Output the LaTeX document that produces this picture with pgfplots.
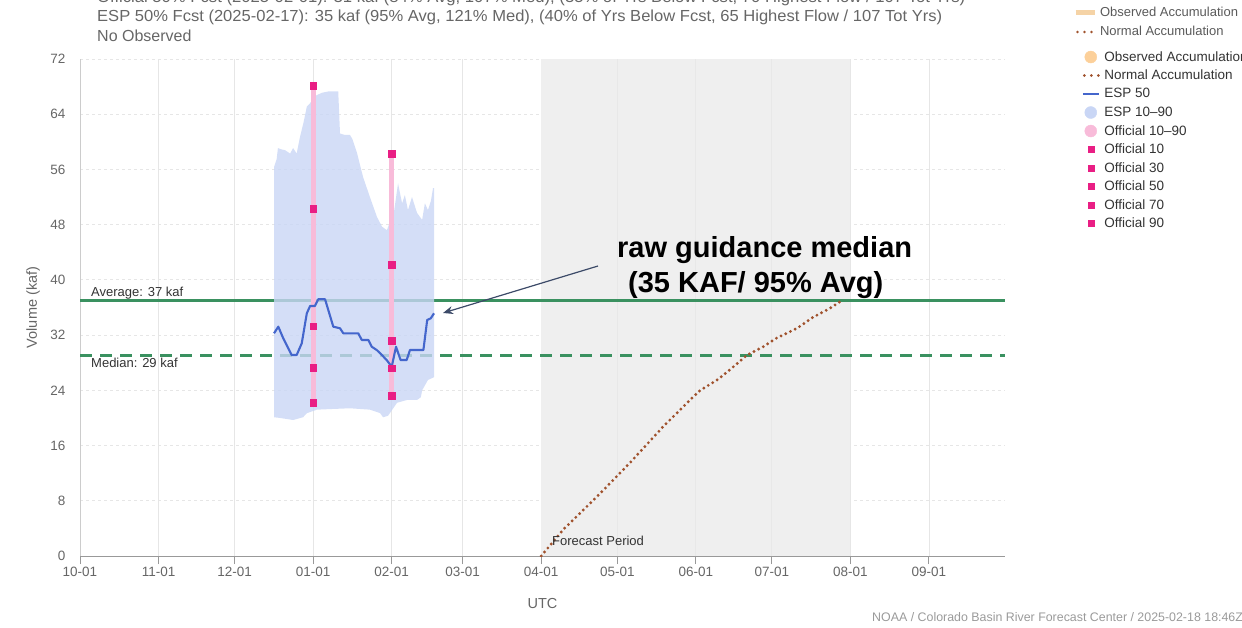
\documentclass[border=0pt]{standalone}
\usepackage{pgfplots}
\pgfplotsset{compat=1.18}
\usepackage{fontspec}
\setmainfont{Liberation Sans}
\usetikzlibrary{arrows.meta}
\definecolor{textgray}{HTML}{666666}
\definecolor{darktext}{HTML}{333333}
\definecolor{legtext}{HTML}{333333}
\definecolor{leg1text}{HTML}{5A5A5A}
\definecolor{footgray}{HTML}{9A9A9A}
\definecolor{axisgray}{HTML}{999999}
\definecolor{lightaxis}{HTML}{CCCCCC}
\definecolor{gridgray}{HTML}{E6E6E6}
\definecolor{fcgray}{HTML}{EFEFEF}
\definecolor{avggreen}{HTML}{3A9160}
\definecolor{espband}{HTML}{C9D6F5}
\definecolor{espline}{HTML}{4466CC}
\definecolor{offpink}{HTML}{F8BBD9}
\definecolor{offmag}{HTML}{E91E84}
\definecolor{normbrown}{HTML}{A0522D}
\definecolor{obstan}{HTML}{F5D3A6}
\definecolor{obsorange}{HTML}{FCD09A}
\definecolor{arrowc}{HTML}{3C4A68}

\pgfplotstableread{
x y
76.6 56.4
77.6 57.5
78.1 59.1
79.5 58.9
80.9 58.8
82.9 58.3
84.1 59.1
85.5 58.3
86.8 60.7
88.2 62.8
89.5 65.1
90.8 65.6
92.5 66.6
95.4 67.1
98.0 67.3
101.9 67.3
102.6 61.2
104.5 61.0
106.5 61.0
107.5 60.4
109.3 58.4
111.7 54.9
114.4 52.0
117.2 49.1
119.2 47.7
121.1 47.2
122.3 48.4
123.5 48.8
125.5 54.0
126.3 52.5
127.1 51.1
128.2 52.3
129.4 50.1
131.0 52.0
133.0 49.7
135.0 48.7
136.1 51.1
137.3 50.1
138.5 51.5
139.3 53.3
139.7 53.3
139.7 25.9
137.3 25.5
135.0 24.0
134.5 23.0
133.0 22.6
129.0 22.6
125.1 22.2
122.3 20.7
121.5 20.3
119.6 20.1
118.4 20.7
114.4 21.2
106.5 21.4
99.8 21.3
93.5 21.2
89.6 20.7
88.0 20.1
84.1 19.7
78.9 20.0
76.6 20.1
}\espband

\pgfplotstableread{
x y
76.55 32.26
78.25 33.22
80.2 31.54
82.2 30.09
83.5 29.12
85.5 29.12
87.5 30.81
89.5 35.16
90.8 36.22
92.7 36.22
94.0 37.19
96.7 37.19
99.95 33.22
102.6 32.99
103.9 32.26
109.8 32.26
111.2 31.29
113.8 31.29
115.1 30.32
117.1 29.84
119.1 29.12
121.0 28.39
123.0 27.42
124.7 30.32
126.5 28.39
128.9 28.39
130.2 29.84
135.5 29.84
137.0 34.19
138.4 34.43
139.7 35.16
}\espfifty

\pgfplotstableread{
x y
182 0
190.6 3.8
204 8.6
217 13.5
230 18.7
240.7 22.6
244.7 24.0
251.4 25.5
256.5 27.0
263.2 29.1
269.5 30.3
275 31.6
283 33.0
289.3 34.6
296 35.9
300.5 37.0
}\normacc

\pgfplotstableread{
x y
92 68.1
92 50.3
92 33.3
92 27.3
92 22.2
123 58.3
123 42.2
123 31.2
123 27.2
123 23.2
}\official

\begin{document}
\begin{tikzpicture}[x=1pt,y=1pt]
\begin{axis}[
  at={(80pt,71pt)}, anchor=south west,
  scale only axis, width=925pt, height=497pt,
  xmin=0, xmax=365, ymin=0, ymax=72,
  axis lines=left, axis line style={-},
  x axis line style={draw=axisgray, line width=1pt},
  y axis line style={draw=lightaxis, line width=1pt},
  xtick={0,31,61,92,123,151,182,212,243,273,304,335},
  xticklabels={10-01,11-01,12-01,01-01,02-01,03-01,04-01,05-01,06-01,07-01,08-01,09-01},
  ytick={0,8,...,72},
  tick align=outside, major tick length=8pt,
  xtick style={draw=axisgray, line width=1pt},
  ytick style={draw=none},
  yticklabel style={xshift=-3pt},
  xmajorgrids, ymajorgrids,
  x grid style={draw=gridgray, line width=0.8pt},
  y grid style={draw=gridgray, line width=0.8pt, dash pattern=on 3pt off 3pt},
  tick label style={font=\fontsize{13.5}{16}\selectfont, text=textgray},
  /pgf/number format/assume math mode=true,
  xlabel={UTC}, ylabel={Volume (kaf)},
  label style={font=\fontsize{14.5}{17}\selectfont, text=textgray},
  xlabel style={at={(axis description cs:0.5,-0.0946)}, anchor=center},
  ylabel style={at={(axis description cs:-0.0508,0.5)}, anchor=center},
  legend style={
    at={(axis description cs:1.0830,1.0226)}, anchor=north west,
    draw=none, fill=none, inner sep=0pt, outer sep=0pt,
    font=\fontsize{13.5}{16}\selectfont, text=legtext,
    row sep=0pt, column sep=4pt,
    nodes={inner sep=0pt, minimum height=18.5pt},
  },
  legend cell align=left,
]
% forecast period shading
\addplot[draw=none, fill=fcgray, forget plot] coordinates {(182,72) (304,72)} \closedcycle;
% month grid lines visible over the shading
\addplot[gridgray!80!black!12!fcgray, line width=0.8pt, forget plot] coordinates {(212,0) (212,72)};
\addplot[gridgray!80!black!12!fcgray, line width=0.8pt, forget plot] coordinates {(243,0) (243,72)};
\addplot[gridgray!80!black!12!fcgray, line width=0.8pt, forget plot] coordinates {(273,0) (273,72)};
% average and median
\addplot[avggreen, line width=2.5pt, forget plot] coordinates {(0,37) (365,37)};
\addplot[avggreen, line width=3pt, dash pattern=on 12pt off 8pt, forget plot] coordinates {(0,29) (365,29)};
% ESP band
\addplot[draw=none, fill=espband, fill opacity=0.8, forget plot] table[x=x,y=y] {\espband} -- cycle;
% normal accumulation
\addplot[normbrown, line width=3.2pt, line cap=round, dash pattern=on 0pt off 5.2pt, forget plot] table[x=x,y=y] {\normacc};
% official 10-90 bars
\addplot[offpink, line width=5pt, forget plot] coordinates {(92,22.2) (92,68.1)};
\addplot[offpink, line width=5pt, forget plot] coordinates {(123,23.2) (123,58.3)};
% ESP 50
\addplot[espline, line width=2.1pt, line join=round, forget plot] table[x=x,y=y] {\espfifty};
% official markers
\addplot[only marks, mark=square*, mark size=3.3pt, color=offmag, forget plot] table[x=x,y=y] {\official};

\addlegendimage{legend image code/.code={\path[draw=none,fill=none] (0pt,-6pt) rectangle (16pt,6pt); \fill[obsorange] (8pt,0pt) circle (6pt);}}
\addlegendentry{Observed Accumulation}
\addlegendimage{legend image code/.code={\path[draw=none,fill=none] (0pt,-6pt) rectangle (16pt,6pt); \draw[normbrown, line width=3pt, line cap=round, dash pattern=on 0pt off 7pt] (1.5pt,0pt) -- (16pt,0pt);}}
\addlegendentry{Normal Accumulation}
\addlegendimage{legend image code/.code={\path[draw=none,fill=none] (0pt,-6pt) rectangle (16pt,6pt); \draw[espline, line width=2pt] (0pt,0pt) -- (16pt,0pt);}}
\addlegendentry{ESP 50}
\addlegendimage{legend image code/.code={\path[draw=none,fill=none] (0pt,-6pt) rectangle (16pt,6pt); \fill[espband] (8pt,0pt) circle (6pt);}}
\addlegendentry{ESP 10–90}
\addlegendimage{legend image code/.code={\path[draw=none,fill=none] (0pt,-6pt) rectangle (16pt,6pt); \fill[offpink] (8pt,0pt) circle (6pt);}}
\addlegendentry{Official 10–90}
\addlegendimage{legend image code/.code={\path[draw=none,fill=none] (0pt,-6pt) rectangle (16pt,6pt); \fill[offmag] (5pt,-3pt) rectangle (11pt,3pt);}}
\addlegendentry{Official 10}
\addlegendimage{legend image code/.code={\path[draw=none,fill=none] (0pt,-6pt) rectangle (16pt,6pt); \fill[offmag] (5pt,-3pt) rectangle (11pt,3pt);}}
\addlegendentry{Official 30}
\addlegendimage{legend image code/.code={\path[draw=none,fill=none] (0pt,-6pt) rectangle (16pt,6pt); \fill[offmag] (5pt,-3pt) rectangle (11pt,3pt);}}
\addlegendentry{Official 50}
\addlegendimage{legend image code/.code={\path[draw=none,fill=none] (0pt,-6pt) rectangle (16pt,6pt); \fill[offmag] (5pt,-3pt) rectangle (11pt,3pt);}}
\addlegendentry{Official 70}
\addlegendimage{legend image code/.code={\path[draw=none,fill=none] (0pt,-6pt) rectangle (16pt,6pt); \fill[offmag] (5pt,-3pt) rectangle (11pt,3pt);}}
\addlegendentry{Official 90}
\end{axis}

% first legend group
\begin{axis}[
  at={(80pt,71pt)}, anchor=south west,
  scale only axis, width=925pt, height=497pt,
  xmin=0, xmax=1, ymin=0, ymax=1, hide axis,
  legend style={
    at={(axis description cs:1.0735,1.1117)}, anchor=north west,
    draw=none, fill=none, inner sep=0pt, outer sep=0pt,
    font=\fontsize{13}{15}\selectfont, text=leg1text,
    row sep=0pt, column sep=3pt,
    nodes={inner sep=0pt, minimum height=19pt},
  },
  legend cell align=left,
]
\addlegendimage{legend image code/.code={\path[draw=none,fill=none] (0pt,-6pt) rectangle (19pt,6pt); \draw[obstan, line width=5pt] (0pt,0pt) -- (19pt,0pt);}}
\addlegendentry{Observed Accumulation}
\addlegendimage{legend image code/.code={\path[draw=none,fill=none] (0pt,-6pt) rectangle (19pt,6pt); \draw[normbrown, line width=2.6pt, line cap=round, dash pattern=on 0pt off 7pt] (2pt,0pt) -- (19pt,0pt);}}
\addlegendentry{Normal Accumulation}
\end{axis}

% titles
\node[anchor=base west, inner sep=0pt, text=textgray] at (97pt,624pt)
  {\resizebox{868pt}{\height}{\fontsize{16}{19}\selectfont Official 50\% Fcst (2025-02-01): 31 kaf (84\% Avg, 107\% Med), (35\% of Yrs Below Fcst, 70 Highest Flow / 107 Tot Yrs)}};
\node[anchor=base west, inner sep=0pt, text=textgray] at (97pt,605pt)
  {\resizebox{845pt}{\height}{\fontsize{16}{19}\selectfont ESP 50\% Fcst (2025-02-17): 35 kaf (95\% Avg, 121\% Med), (40\% of Yrs Below Fcst, 65 Highest Flow / 107 Tot Yrs)}};
\node[anchor=base west, inner sep=0pt, text=textgray, font=\fontsize{16}{19}\selectfont] at (97pt,585pt) {No Observed};

% line labels
\node[anchor=base west, inner sep=0pt, text=darktext, font=\fontsize{13}{15}\selectfont] at (91pt,330pt) {Average: 37 kaf};
\node[anchor=base west, inner sep=0pt, text=darktext, font=\fontsize{13}{15}\selectfont] at (91pt,259.5pt) {Median: 29 kaf};
\node[anchor=base west, inner sep=0pt, text=darktext, font=\fontsize{13}{15}\selectfont] at (552pt,82pt) {Forecast Period};

% annotation
\draw[-{Stealth[length=10pt,width=8pt]}, arrowc, line width=1.2pt] (598pt,361pt) -- (443pt,314pt);
\node[anchor=base west, inner sep=0pt, font=\fontsize{29}{35}\selectfont\bfseries] at (617pt,369pt) {raw guidance median};
\node[anchor=base west, inner sep=0pt, font=\fontsize{29}{35}\selectfont\bfseries] at (628pt,334pt) {(35 KAF/ 95\% Avg)};

% footer
\node[anchor=base west, inner sep=0pt, text=footgray, font=\fontsize{12.4}{14}\selectfont] at (872pt,6pt) {NOAA / Colorado Basin River Forecast Center / 2025-02-18 18:46Z};

\pgfresetboundingbox
\useasboundingbox (0pt,0pt) rectangle (1242pt,627pt);
\end{tikzpicture}
\end{document}
